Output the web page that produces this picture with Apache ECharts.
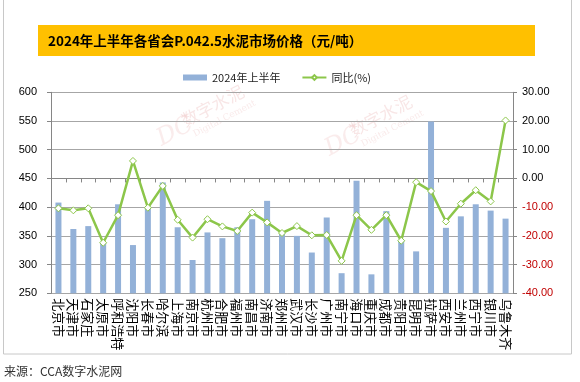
<!DOCTYPE html>
<html>
<head>
<meta charset="utf-8">
<script src="https://cdn.jsdelivr.net/npm/echarts@6/dist/echarts.min.js"></script>
<style>
html,body{margin:0;padding:0;background:#fff;}
#main{width:580px;height:382px;}
</style>
</head>
<body>
<div id="main"></div>
<script>
const cities = ['北京市','天津市','石家庄','太原市','呼和浩特','沈阳市','长春市','哈尔滨','上海市','南京市','杭州市','合肥市','福州市','南昌市','济南市','郑州市','武汉市','长沙市','广州市','南宁市','海口市','重庆市','成都市','贵阳市','昆明市','拉萨市','西安市','兰州市','西宁市','银川市','乌鲁木齐'];
const price2024H1 = [408,362,367,338,405,334,401,443,365,308,356,346,365,379,411,354,350,321,382,285,446,283,393,342,323,549,364,384,405,394,380];
const yoyPct = [-10.4,-11.1,-10.4,-22.4,-12.8,6.1,-10.2,-2.6,-14.4,-20.6,-14.2,-16.7,-18.3,-11.9,-15.3,-19.0,-16.6,-19.8,-19.7,-28.7,-12.8,-17.9,-12.8,-21.7,-1.3,-4.4,-15.0,-8.8,-4.1,-8.0,20.2];
const seriesNames = ['2024年上半年','同比(%)'];
const titleText = '2024年上半年各省会P.042.5水泥市场价格（元/吨）';
const sourceText = '来源：CCA数字水泥网';

const chart = echarts.init(document.getElementById('main'), null, {renderer:'canvas'});
const wm = (x, y) => ({
  type:'group', x:x, y:y, rotation: Math.PI/6.5, silent:true,
  children:[
    {type:'text', x:0, y:2, style:{text:'DC', font:'italic 24px "DejaVu Serif"', fill:'rgba(225,150,150,0.18)'}},
    {type:'text', x:30, y:0, style:{text:'数字水泥', font:'17px "Noto Sans CJK SC"', fill:'rgba(225,140,140,0.22)'}},
    {type:'text', x:34, y:21, style:{text:'Digital Cement', font:'9px "DejaVu Serif"', fill:'rgba(225,150,150,0.2)'}}
  ]
});
chart.setOption({
  animation:false,
  textStyle:{fontFamily:'"Liberation Sans","Noto Sans CJK SC",sans-serif'},
  graphic:[
    {type:'rect', shape:{x:3.5,y:-1,width:568,height:355}, style:{fill:'none', stroke:'#c8c8c8', lineWidth:1}, silent:true},
    {type:'rect', shape:{x:38,y:25,width:497,height:31}, style:{fill:'#FFC000'}, silent:true},
    {type:'text', x:48, y:40.5, style:{text:titleText, font:'bold 13.5px "Noto Sans CJK SC"', fill:'#000', textVerticalAlign:'middle'}, silent:true},
    {type:'text', x:4, y:371.5, style:{text:sourceText, font:'12px "Noto Sans CJK SC"', fill:'#333', textVerticalAlign:'middle'}, silent:true},
    wm(152, 128),
    wm(320, 138)
  ],
  legend:{
    top:67, left:178, itemGap:21, itemWidth:24, itemHeight:6,
    textStyle:{fontSize:11, color:'#222', fontFamily:'"Noto Sans CJK SC"'},
    data:[{name:seriesNames[0], icon:'rect'},{name:seriesNames[1]}]
  },
  grid:{left:51, right:67, top:92.3, bottom:88.7},
  xAxis:{
    type:'category', data:cities,
    axisLine:{lineStyle:{color:'#868686'}},
    axisTick:{show:true, length:4, lineStyle:{color:'#868686'}},
    axisLabel:{interval:0, margin:5, rotate:-90, fontSize:13, color:'#000', fontFamily:'"Noto Sans CJK SC"'}
  },
  yAxis:[
    {type:'value', min:250, max:600, interval:50,
     axisLine:{show:true, lineStyle:{color:'#868686'}},
     axisTick:{show:true, length:4, lineStyle:{color:'#868686'}},
     splitLine:{lineStyle:{color:'#a6a6a6'}},
     axisLabel:{fontSize:11, color:'#000', margin:14}},
    {type:'value', min:-40, max:30, interval:10,
     axisLine:{show:true, lineStyle:{color:'#868686'}},
     axisTick:{show:true, length:4, lineStyle:{color:'#868686'}},
     splitLine:{show:false},
     axisLabel:{fontSize:11, margin:9,
       formatter: v => v.toFixed(2),
       color: v => (parseFloat(v) < 0 ? '#C00000' : '#000')}}
  ],
  series:[
    {name:seriesNames[0], type:'bar', data:price2024H1, barWidth:6,
     itemStyle:{color:'#93B1D8'}},
    {name:seriesNames[1], type:'line', yAxisIndex:1, data:yoyPct,
     symbol:'diamond', symbolSize:7,
     lineStyle:{color:'#8CC64A', width:2.5},
     itemStyle:{color:'#fff', borderColor:'#8CC64A', borderWidth:1}}
  ]
});
</script>
</body>
</html>
